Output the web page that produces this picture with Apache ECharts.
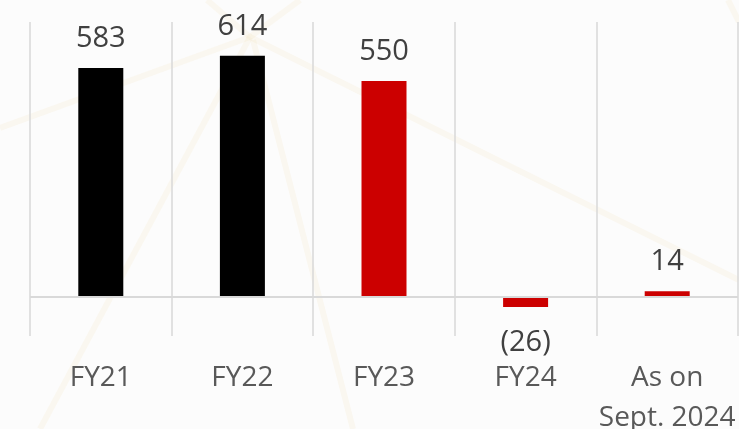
<!DOCTYPE html>
<html>
<head>
<meta charset="utf-8">
<script src="https://cdn.jsdelivr.net/npm/echarts@6/dist/echarts.min.js"></script>
<style>
html,body{margin:0;padding:0;background:#fcfcfc;}
#chart{width:739px;height:429px;}
</style>
</head>
<body>
<div id="chart"></div>
<script>
var categories = ['FY21', 'FY22', 'FY23', 'FY24', 'As on\nSept. 2024'];
var values = [583, 614, 550, -26, 14];
var barColors = ['#000000', '#000000', '#cc0000', '#cc0000', '#cc0000'];

var chart = echarts.init(document.getElementById('chart'));
var deco = 'rgba(235,215,160,0.12)';
function decoLine(x1, y1, x2, y2) {
  return { type: 'line', silent: true, z: -10, shape: { x1: x1, y1: y1, x2: x2, y2: y2 }, style: { stroke: deco, lineWidth: 6 } };
}
function fmt(v) { return v < 0 ? '(' + Math.abs(v) + ')' : String(v); }
chart.setOption({
  backgroundColor: '#fcfcfc',
  animation: false,
  graphic: [
    decoLine(0, 128, 250, 37),
    decoLine(250, 37, 739, 280),
    decoLine(250, 37, 40, 429),
    decoLine(253, 40, 353, 429),
    decoLine(207, 0, 250, 37),
    decoLine(300, 0, 250, 37),
    decoLine(728, 0, 739, 22)
  ],
  grid: { left: 30, right: 1, top: 22, bottom: 93, outerBoundsMode: 'none', containLabel: false },
  xAxis: {
    type: 'category',
    data: categories,
    axisLine: { show: false, onZero: false },
    axisTick: { show: false },
    splitLine: { show: true, lineStyle: { color: '#d9d9d9', width: 1.5 } },
    axisLabel: {
      interval: 0,
      margin: 22,
      color: '#595959',
      fontFamily: 'Open Sans',
      fontSize: 28,
      lineHeight: 40
    }
  },
  yAxis: {
    type: 'value',
    min: -100,
    max: 700,
    interval: 100,
    show: false,
    splitLine: { show: false }
  },
  series: [{
    type: 'bar',
    barWidth: 45,
    data: values.map(function (v, i) {
      var d = { value: v, itemStyle: { color: barColors[i] } };
      if (v < 0) d.label = { position: 'bottom', distance: 21 };
      return d;
    }),
    label: {
      show: true,
      position: 'top',
      distance: 15,
      color: '#404040',
      fontFamily: 'Open Sans',
      fontSize: 29,
      formatter: function (p) { return fmt(p.value); }
    },
    markLine: {
      silent: true,
      symbol: 'none',
      label: { show: false },
      lineStyle: { color: '#d9d9d9', width: 2, type: 'solid' },
      data: [{ yAxis: 0 }]
    }
  }]
});
</script>
</body>
</html>
